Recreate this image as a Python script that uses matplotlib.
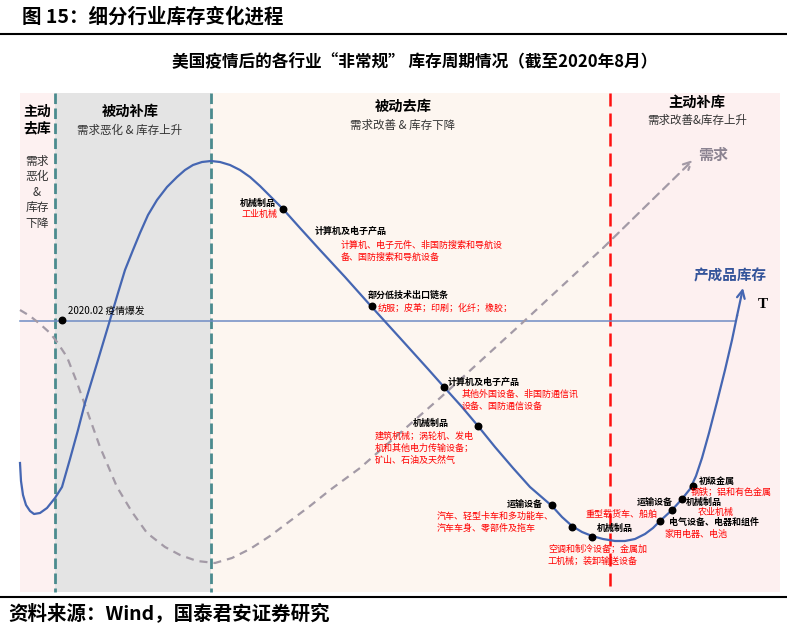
import numpy as np
import matplotlib.pyplot as plt

plt.rcParams['font.family'] = ['Noto Sans CJK SC', 'DejaVu Sans']

# schematic, in picture units (x to the right, y downwards)
inv_x = [20, 21, 23, 26, 30, 34, 40, 47, 55, 62, 70, 78, 85, 98, 110, 118, 125, 133,
         140, 148, 157, 167, 177, 185, 193, 202, 211, 220, 230, 240, 250, 260, 270, 283,
         300, 320, 345, 370, 400, 428, 444, 462, 478, 495, 513, 530, 552, 562, 572, 582,
         592, 603, 615, 625, 635, 645, 653, 660, 672, 682, 690, 696, 702, 709, 717, 725,
         732, 737, 743]
inv_y = [463, 481, 495, 505, 511, 514, 513, 508, 498, 487, 459, 430, 403, 360, 320, 293,
         270, 250, 233, 215, 200, 187, 177, 170, 165, 162, 161, 162, 165, 170, 177, 186,
         196, 209, 228, 250, 277, 305, 338, 369, 387, 407, 426, 447, 468, 487, 506, 517,
         526, 532, 536, 539, 541, 541, 539, 534, 528, 521, 510, 499, 489, 476, 458, 433,
         402, 370, 340, 316, 288]

dem_x = [20, 30, 40, 50, 57, 67, 76, 85, 100, 117, 132, 147, 165, 180, 197, 215, 232,
         250, 270, 290, 310, 330, 360, 440, 520, 603, 693]
dem_y = [310, 316, 324, 333, 342, 357, 380, 405, 447, 487, 512, 533, 547, 555, 561, 563,
         558, 549, 536, 521, 506, 490, 468, 398, 325, 248, 160]

dot_x = [62, 283, 372, 444, 478, 552, 572, 592, 660, 672, 682, 693]
dot_y = [320, 209, 306, 387, 426, 505, 527, 537, 521, 510, 499, 486]

# phase bands: left edge, right edge, colour
band_x0 = [20, 55, 211, 610]
band_x1 = [55, 211, 610, 780]
band_c = ['#fdf1f1', '#e4e4e4', '#fdf6f0', '#fdf0f0']

# black industry labels (x, y, text, ha)
lab_black = [
    (258, 203, '机械制品', 'center'),
    (315, 231, '计算机及电子产品', 'left'),
    (368, 295, '部分低技术出口链条', 'left'),
    (448, 382, '计算机及电子产品', 'left'),
    (431, 423, '机械制品', 'center'),
    (525, 504, '运输设备', 'center'),
    (597, 528, '机械制品', 'left'),
    (637, 502, '运输设备', 'left'),
    (669, 522, '电气设备、电器和组件', 'left'),
    (686, 502, '机械制品', 'left'),
    (699, 481, '初级金属', 'left'),
]
# red sub industry labels
lab_red = [
    (260, 214, '工业机械', 'center'),
    (341, 245, '计算机、电子元件、非国防搜索和导航设', 'left'),
    (341, 257, '备、国防搜索和导航设备', 'left'),
    (378, 308, '纺服；皮革；印刷；化纤；橡胶；', 'left'),
    (462, 394, '其他外国设备、非国防通信讯', 'left'),
    (462, 406, '设备、国防通信设备', 'left'),
    (375, 436, '建筑机械；涡轮机、发电', 'left'),
    (375, 448, '机和其他电力传输设备；', 'left'),
    (375, 460, '矿山、石油及天然气', 'left'),
    (437, 516, '汽车、轻型卡车和多功能车、', 'left'),
    (437, 528, '汽车车身、零部件及拖车', 'left'),
    (586, 514, '重型载货车、船舶', 'left'),
    (548, 549, '空调和制冷设备；金属加', 'left'),
    (548, 561, '工机械；装卸输送设备', 'left'),
    (664, 534, '家用电器、电池', 'left'),
    (698, 512, '农业机械', 'left'),
    (691, 492, '钢铁；铝和有色金属', 'left'),
]

fig = plt.figure(figsize=(7.87, 6.34), dpi=100)
ax = fig.add_axes([0, 0, 1, 1])
ax.set_xlim(0, 787)
ax.set_ylim(634, 0)
ax.axis('off')

for x0, x1, c in zip(band_x0, band_x1, band_c):
    ax.fill_between([x0, x1], 93, 592, color=c, lw=0, zorder=0)

ax.plot([55, 55], [93, 592], color='#4b8b8e', lw=2, ls=(0, (3.8, 1.6)), zorder=2)
ax.plot([211, 211], [93, 592], color='#4b8b8e', lw=2, ls=(0, (3.8, 1.6)), zorder=2)
ax.plot([610, 610], [93, 592], color='#ff1010', lw=1.8, ls=(0, (5.2, 2.8)), zorder=2)

# time axis
ax.plot([20, 735], [321, 321], color='#6f8cc4', lw=1.1, zorder=3)

# demand (dashed grey) and inventory (blue)
ax.plot(dem_x[:-1], dem_y[:-1], color='#a39aa6', lw=1.6, ls=(0, (3.6, 2.7)), zorder=3)
ax.annotate('', xy=(dem_x[-1], dem_y[-1]), xytext=(dem_x[-2], dem_y[-2]),
            arrowprops=dict(arrowstyle='->', color='#a39aa6', lw=1.6, ls=(0, (3.6, 2.7)),
                            mutation_scale=14, shrinkA=0, shrinkB=0), zorder=3)
ax.plot(inv_x[:-1], inv_y[:-1], color='#4566b2', lw=1.6, zorder=4)
ax.annotate('', xy=(inv_x[-1], inv_y[-1]), xytext=(inv_x[-2], inv_y[-2]),
            arrowprops=dict(arrowstyle='->', color='#4566b2', lw=1.6,
                            mutation_scale=14, shrinkA=0, shrinkB=0), zorder=4)
ax.scatter(dot_x, dot_y, s=22, color='black', zorder=5)

for x, y, t, ha in lab_black:
    ax.text(x, y, t, ha=ha, va='center', fontsize=6.5, fontweight='bold', color='black', zorder=6)
for x, y, t, ha in lab_red:
    ax.text(x, y, t, ha=ha, va='center', fontsize=6.5, color='#ff0000', zorder=6)

ax.text(68, 311, '2020.02 疫情爆发', ha='left', va='center', fontsize=7, color='black', zorder=6)

# phase headers
ax.text(37, 120, '主动\n去库', ha='center', va='center', fontsize=10, fontweight='bold', linespacing=1.2)
ax.text(37, 192, '需求\n恶化\n&\n库存\n下降', ha='center', va='center', fontsize=8.5,
        color='#333333', linespacing=1.25)
ax.text(130, 112, '被动补库', ha='center', va='center', fontsize=10.3, fontweight='bold')
ax.text(130, 130, '需求恶化 & 库存上升', ha='center', va='center', fontsize=8.3, color='#333333')
ax.text(403, 107, '被动去库', ha='center', va='center', fontsize=10.3, fontweight='bold')
ax.text(403, 125, '需求改善 & 库存下降', ha='center', va='center', fontsize=8.3, color='#333333')
ax.text(697, 103, '主动补库', ha='center', va='center', fontsize=10.3, fontweight='bold')
ax.text(697, 120, '需求改善&库存上升', ha='center', va='center', fontsize=8.3, color='#333333')

ax.text(713, 155, '需求', ha='center', va='center', fontsize=10.8, fontweight='bold', color='#8b8391')
ax.text(730, 275, '产成品库存', ha='center', va='center', fontsize=10.5, fontweight='bold',
        color='#34549a', style='italic')
ax.text(763, 305, 'T', ha='center', va='center', fontsize=11, fontweight='bold',
        family='Liberation Serif')

# report frame
ax.text(22, 17, '图 15：细分行业库存变化进程', ha='left', va='center', fontsize=14, fontweight='bold')
ax.plot([0, 787], [34, 34], color='black', lw=1.5)
ax.text(415, 62, '美国疫情后的各行业“非常规” 库存周期情况（截至2020年8月）', ha='center',
        va='center', fontsize=12, fontweight='bold')
ax.plot([0, 787], [597, 597], color='black', lw=1.5)
ax.text(8, 614, '资料来源：Wind，国泰君安证券研究', ha='left', va='center', fontsize=14,
        fontweight='bold')

fig.savefig('out.png', dpi=100)
